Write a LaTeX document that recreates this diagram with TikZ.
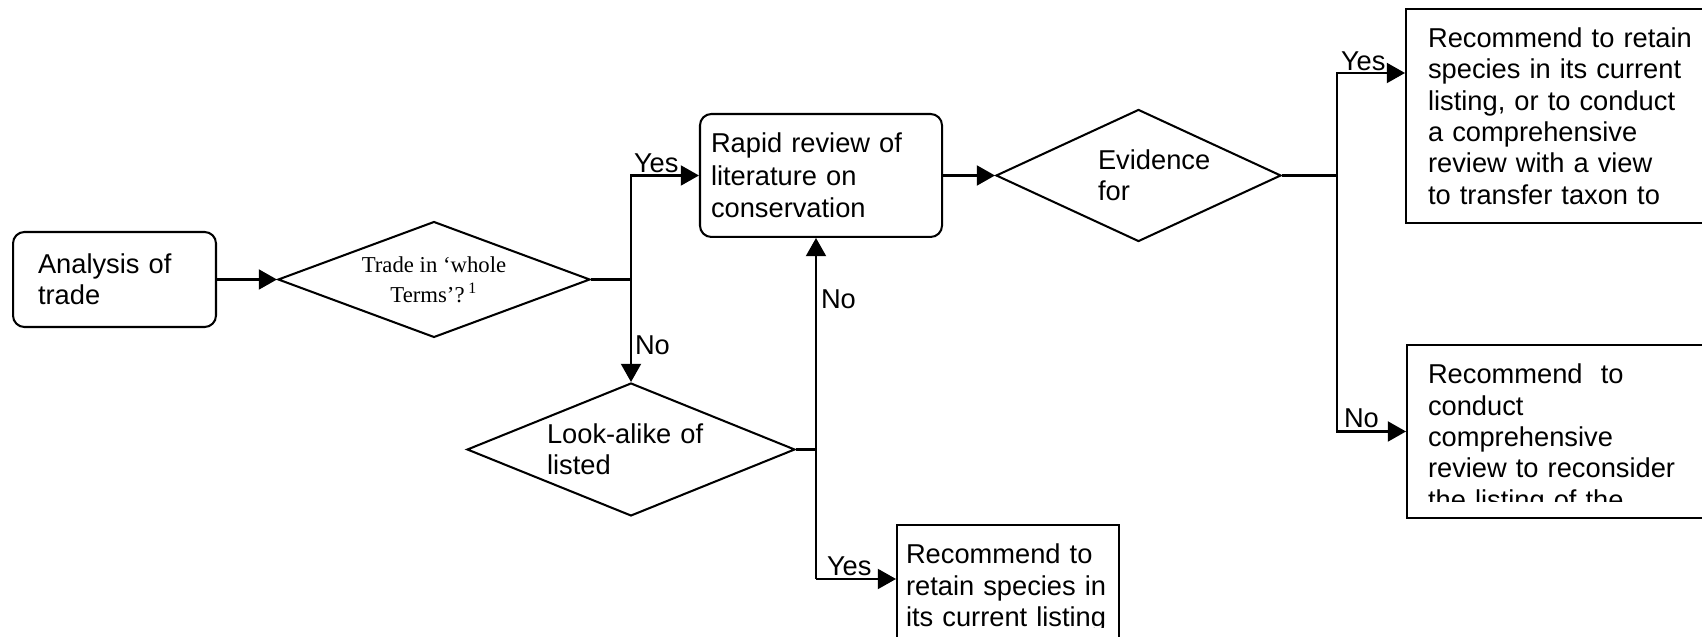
\documentclass[tikz,border=0pt]{standalone}
\usepackage{fontspec}
\setmainfont{Liberation Sans}
\newfontfamily\serifface{Liberation Serif}
\usetikzlibrary{arrows.meta,shapes.geometric}

\begin{document}
\begin{tikzpicture}[x=0.44pt, y=-0.44pt, line width=0.9pt,
  every node/.style={font=\fontsize{12}{13.8}\selectfont},
  arr/.style={-{Triangle[length=8pt,width=8.8pt]}},
  roundbox/.style={draw, rounded corners=5pt, align=left, inner ysep=0pt},
  decision/.style={draw, diamond, aspect=2.4, inner sep=0pt},
  outbox/.style={draw, rectangle, inner sep=0pt},
  boxtext/.style={align=left, inner sep=0pt, text width=132pt, anchor=north west},
  lbl/.style={inner sep=0pt, anchor=base west}]
  \useasboundingbox (0,0) rectangle (1702,637);
  \clip (0,0) rectangle (1702,637);
  % boxes and decisions
  \node[roundbox, minimum width=89.3pt, minimum height=41.8pt, text width=67.3pt, inner xsep=11pt] (analysis) at (114.5,279.5) {Analysis of\\trade};
  \node[decision, minimum width=137.3pt, minimum height=51pt, align=center, font=\serifface\fontsize{10}{13.2}\selectfont] (trade) at (434,279.5) {Trade in ‘whole\\Terms’?\,\textsuperscript{1}};
  \node[roundbox, minimum width=106.5pt, minimum height=54.1pt, text width=96.8pt, inner xsep=4.8pt, font=\fontsize{12}{14.4}\selectfont] (rapid) at (821,175.5) {Rapid review of\\literature on\\conservation};
  \node[decision, minimum width=144.3pt, minimum height=58.5pt, align=left, text width=73.9pt] (look) at (631,449.5) {Look-alike of\\listed};
  \node[decision, minimum width=125.4pt, minimum height=58.1pt, align=left, text width=35.6pt] (evid) at (1138.5,175.5) {\mbox{Evidence}\\for};
  \node[outbox, anchor=north west, minimum height=94.2pt, text width=132pt, inner xsep=9.7pt, align=left] (transfer) at (1405,8) {Recommend to retain\\species in its current\\listing, or to conduct\\a comprehensive\\review with a view\\to transfer taxon to};
  \node[outbox, anchor=north west, minimum width=149.6pt, minimum height=76.1pt] (reconsider) at (1406,344) {};
  \node[outbox, anchor=north west, minimum width=97.7pt, minimum height=61.6pt] (keep) at (896,524) {};
  \begin{scope}
    \clip (1406,344) rectangle (1702,502);
    \node[boxtext] (reconsidertext) at (1427,363) {Recommend\ \ to\\conduct\\comprehensive\\review to reconsider\\the listing of the};
  \end{scope}
  \begin{scope}
    \clip (896,524) rectangle (1118,628);
    \node[boxtext] (keeptext) at (905,543) {Recommend to\\retain species in\\its current listing};
  \end{scope}
  % junctions
  \coordinate (j1) at (631,279.5);
  \coordinate (j2) at (1337,175.5);
  \coordinate (j2top) at (1337,73);
  \coordinate (j3) at (816,449.5);
  \coordinate (j3low) at (816,579);
  % connectors
  \draw[arr] (analysis) -- (trade);
  \draw (trade) -- (j1);
  \draw[arr] (j1) |- (rapid);
  \draw[arr] (j1) -- (look);
  \draw[arr] (rapid) -- (evid);
  \draw (look) -- (j3);
  \draw[arr] (j3) -- (j3 |- rapid.south);
  \draw (j3) -- (j3low);
  \draw[arr] (j3low) -- (keep.west |- j3low);
  \draw (evid) -- (j2);
  \draw[arr] (j2) -- (j2top) -- (transfer.west |- j2top);
  \draw[arr] (j2) |- (reconsider);
  % labels
  \node[lbl] (yes1) at (633,173) {Yes};
  \node[lbl] (no1) at (634,355) {No};
  \node[lbl] (no2) at (820,309) {No};
  \node[lbl] (yes3) at (826,576) {Yes};
  \node[lbl] (yes2) at (1340,71) {Yes};
  \node[lbl] (no3) at (1343,428) {No};
\end{tikzpicture}
\end{document}
